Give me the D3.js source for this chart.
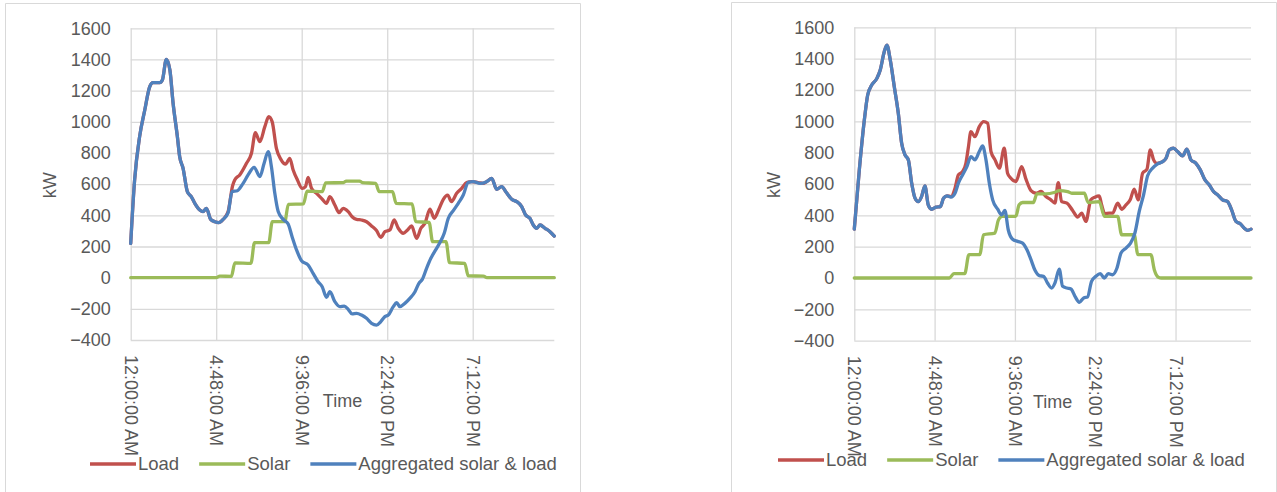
<!DOCTYPE html>
<html>
<head>
<meta charset="utf-8">
<script src="https://cdn.jsdelivr.net/npm/d3@7"></script>
<style>
  html, body { margin: 0; padding: 0; background: #ffffff; }
  svg { display: block; }
  text { font-family: "Liberation Sans", Arial, sans-serif; fill: #595959; }
</style>
</head>
<body>
<svg id="chart" width="1277" height="492"></svg>
<script>
// ---- axis definitions ----
const yTicks = [-400, -200, 0, 200, 400, 600, 800, 1000, 1200, 1400, 1600];
const xTickHours = [0, 4.8, 9.6, 14.4, 19.2];
const xTickLabels = ["12:00:00 AM", "4:48:00 AM", "9:36:00 AM", "2:24:00 PM", "7:12:00 PM"];
const seriesNames = ["Load", "Solar", "Aggregated solar & load"];
const seriesColors = ["#c0504d", "#9bbb59", "#4f81bd"];

// ---- first day: hour of day and kW ----
const aggHoursA = [0,0.22,0.5,0.79,1.07,1.25,1.63,1.78,2.0,2.2,2.38,2.62,2.75,2.94,3.18,3.4,3.6,3.88,4.06,4.25,4.49,4.72,4.94,5.19,5.47,5.69,5.99,6.31,6.59,6.93,7.25,7.49,7.72,7.9,8.09,8.28,8.56,8.84,9.06,9.31,9.59,9.96,10.24,10.52,10.75,10.99,11.18,11.46,11.74,11.99,12.21,12.43,12.68,12.96,13.24,13.52,13.8,14.04,14.27,14.46,14.74,14.93,15.11,15.39,15.67,15.96,16.18,16.37,16.61,16.85,17.12,17.36,17.6,17.83,18.11,18.39,18.67,18.95,19.23,19.61,19.98,20.27,20.54,20.82,21.1,21.39,21.67,21.95,22.17,22.41,22.6,22.79,22.98,23.26,23.54,23.78];
const aggA = [220,627,905,1076,1226,1251,1251,1268,1401,1333,1119,905,776,702,552,520,477,434,424,445,374,359,353,374,417,552,558,605,659,708,648,734,809,712,541,424,374,344,263,178,109,81,28,-26,-58,-126,-90,-154,-186,-182,-203,-233,-229,-240,-261,-293,-304,-282,-250,-240,-186,-160,-186,-165,-133,-90,-36,-11,60,124,178,225,285,381,430,477,530,612,616,605,616,637,567,584,545,503,488,456,402,381,338,317,338,317,295,267];

const loadHoursA = [0,0.22,0.5,0.79,1.07,1.25,1.63,1.78,2.0,2.2,2.38,2.62,2.75,2.94,3.18,3.4,3.6,3.88,4.06,4.25,4.49,4.72,4.94,5.19,5.47,5.72,5.84,6.12,6.5,6.78,7.0,7.25,7.53,7.75,7.94,8.18,8.43,8.69,8.93,9.12,9.36,9.63,9.81,9.96,10.15,10.43,10.71,10.99,11.18,11.46,11.69,11.93,12.21,12.43,12.68,12.96,13.24,13.52,13.8,14.04,14.27,14.55,14.79,15.02,15.3,15.54,15.77,16.05,16.29,16.52,16.8,17.04,17.3,17.55,17.79,18.01,18.3,18.58,18.86,19.14,19.51,19.79,19.98,20.27,20.54,20.82,21.1,21.39,21.67,21.95,22.17,22.41,22.6,22.79,22.98,23.26,23.54,23.78];
const loadA = [220,627,905,1076,1226,1251,1251,1268,1401,1333,1119,905,776,702,552,520,477,434,424,445,374,359,353,374,424,590,627,659,734,798,930,873,969,1033,1001,830,759,729,766,691,627,573,584,644,573,541,509,477,520,466,417,445,424,391,374,370,359,332,302,259,295,306,370,317,285,306,332,252,317,349,439,381,439,503,530,488,541,573,610,616,610,605,616,637,567,584,545,503,488,456,402,381,338,317,338,317,295,267];

const solarHoursA = [0,4.8,5.0,5.65,5.85,6.75,6.95,7.75,7.95,8.65,8.85,9.7,9.9,10.75,10.95,11.95,12.1,12.85,13.0,13.75,13.95,14.7,14.9,15.8,16.0,16.75,16.95,17.7,17.9,18.75,18.95,19.8,20.0,23.78];
const solarA = [0,0,10,8,95,92,225,225,360,360,470,473,555,552,608,610,620,620,610,605,552,552,477,473,359,355,231,231,96,92,11,10,0,0];

// ---- second day: hour of day and kW ----
const aggHoursB = [0,0.3,0.6,0.8,1.04,1.35,1.55,1.79,1.95,2.15,2.39,2.63,2.83,3.03,3.23,3.43,3.63,3.82,4.02,4.22,4.42,4.62,4.88,5.14,5.34,5.54,5.78,6.02,6.22,6.47,6.73,6.97,7.21,7.47,7.67,7.87,8.07,8.27,8.57,8.8,9.0,9.2,9.46,9.76,10.06,10.32,10.56,10.8,11.06,11.31,11.55,11.79,11.99,12.25,12.45,12.71,12.95,13.19,13.45,13.71,13.94,14.18,14.44,14.7,14.94,15.18,15.44,15.7,15.94,16.24,16.49,16.77,17.03,17.29,17.53,17.83,18.13,18.43,18.63,18.82,19.08,19.32,19.62,19.88,20.12,20.42,20.68,20.96,21.22,21.47,21.71,22.01,22.31,22.55,22.81,23.07,23.31,23.51,23.71];
const aggB = [312,690,1008,1168,1231,1274,1327,1444,1486,1391,1221,1051,860,786,754,605,510,488,520,588,467,439,452,456,510,524,516,541,605,658,711,775,754,807,843,754,605,499,439,403,431,308,248,234,223,180,117,49,15,11,-32,-64,-32,57,-53,-64,-70,-117,-155,-127,-121,-21,11,28,0,28,21,64,159,191,219,287,425,531,652,701,728,743,764,817,828,807,779,822,754,732,690,626,594,552,531,499,488,435,361,346,318,304,312];

const loadHoursB = [0,0.3,0.6,0.8,1.04,1.35,1.55,1.79,1.95,2.15,2.39,2.63,2.83,3.03,3.23,3.43,3.63,3.82,4.02,4.22,4.42,4.62,4.88,5.14,5.34,5.54,5.78,6.02,6.22,6.47,6.67,6.81,6.97,7.21,7.47,7.73,7.97,8.17,8.41,8.67,8.96,9.16,9.36,9.66,10.0,10.26,10.56,10.86,11.16,11.45,11.75,11.99,12.19,12.39,12.71,13.05,13.35,13.59,13.84,14.14,14.38,14.64,14.78,14.98,15.24,15.44,15.74,15.98,16.24,16.49,16.73,16.97,17.23,17.49,17.69,17.89,18.09,18.43,18.63,18.82,19.08,19.32,19.62,19.88,20.12,20.42,20.68,20.96,21.22,21.47,21.71,22.01,22.31,22.55,22.81,23.07,23.31,23.51,23.71];
const loadB = [312,690,1008,1168,1231,1274,1327,1444,1486,1391,1221,1051,860,786,754,605,510,488,520,588,467,439,452,456,510,524,520,573,658,679,732,828,934,902,966,998,987,807,754,701,828,669,637,616,711,631,558,541,552,520,499,478,609,488,478,431,389,414,361,499,516,524,467,410,414,414,478,439,467,499,567,499,669,694,817,754,732,743,764,817,828,807,779,822,754,732,690,626,594,552,531,499,488,435,361,346,318,304,312];

const solarHoursB = [0,5.68,5.95,6.6,6.85,7.5,7.72,8.4,8.62,8.85,9.65,9.85,10.06,10.7,10.92,11.45,11.95,12.25,12.75,13.0,13.75,13.98,14.64,14.95,15.74,15.98,16.73,16.95,17.73,17.93,18.2,18.35,23.71];
const solarB = [0,0,28,28,149,149,276,287,372,393,393,467,482,482,537,537,546,558,552,541,541,482,488,393,393,276,276,149,149,53,3,0,0];

// ---- layout of the two panels ----
const panels = [
  {
    frame: { x0: 5.5, y0: 3.5, x1: 580.5 },
    plot: { left: 130.7, right: 554.3, top: 28.3, bottom: 340 },
    legendX: 90, legendY: 464,
    series: [
      { hours: loadHoursA, values: loadA },
      { hours: solarHoursA, values: solarA },
      { hours: aggHoursA, values: aggA }
    ]
  },
  {
    frame: { x0: 731.5, y0: 2.5, x1: 1276.5 },
    plot: { left: 854.3, right: 1251, top: 27.3, bottom: 340.7 },
    legendX: 778, legendY: 460,
    series: [
      { hours: loadHoursB, values: loadB },
      { hours: solarHoursB, values: solarB },
      { hours: aggHoursB, values: aggB }
    ]
  }
];

const svg = d3.select("#chart");
const gridColor = "#d9d9d9";

function drawPanel(p) {
  const g = svg.append("g");

  // outer chart-area border
  g.append("path")
    .attr("d", `M${p.frame.x0},500 V${p.frame.y0} H${p.frame.x1} V500`)
    .attr("fill", "none")
    .attr("stroke", gridColor)
    .attr("stroke-width", 1);

  const lastHour = d3.max(p.series, s => d3.max(s.hours));
  const x = d3.scaleLinear().domain([0, lastHour]).range([p.plot.left, p.plot.right]);
  const y = d3.scaleLinear().domain([-400, 1600]).range([p.plot.bottom, p.plot.top]);

  // horizontal gridlines + value labels
  const yAxis = d3.axisLeft(y).tickValues(yTicks)
    .tickSize(-(p.plot.right - p.plot.left))
    .tickPadding(20)
    .tickFormat(d3.format("d"));
  const ya = g.append("g").attr("transform", `translate(${p.plot.left},0)`).call(yAxis);
  ya.select(".domain").remove();
  ya.selectAll(".tick line").attr("stroke", gridColor).attr("stroke-width", 1.3);
  ya.selectAll(".tick text")
    .attr("font-size", 18)
    .attr("font-family", "Liberation Sans, Arial, sans-serif")
    .attr("fill", "#595959");

  // vertical gridlines + rotated time labels
  const xAxis = d3.axisBottom(x).tickValues(xTickHours)
    .tickSize(-(p.plot.bottom - p.plot.top))
    .tickFormat((d, i) => xTickLabels[i]);
  const xa = g.append("g").attr("transform", `translate(0,${p.plot.bottom})`).call(xAxis);
  xa.select(".domain").remove();
  xa.selectAll(".tick line").attr("stroke", gridColor).attr("stroke-width", 1.3);
  xa.selectAll(".tick text")
    .attr("font-size", 18)
    .attr("font-family", "Liberation Sans, Arial, sans-serif")
    .attr("fill", "#595959")
    .attr("text-anchor", "start")
    .attr("transform", "rotate(90)")
    .attr("x", 15)
    .attr("y", 0)
    .attr("dy", "0.35em");

  // axis titles
  g.append("text")
    .attr("transform", `translate(${p.plot.left - 81},${(p.plot.top + p.plot.bottom) / 2 + 1}) rotate(-90)`)
    .attr("text-anchor", "middle")
    .attr("dy", "0.35em")
    .attr("font-size", 18)
    .text("kW");
  g.append("text")
    .attr("x", (p.plot.left + p.plot.right) / 2)
    .attr("y", p.plot.bottom + 61)
    .attr("text-anchor", "middle")
    .attr("dy", "0.35em")
    .attr("font-size", 18)
    .text("Time");

  // series lines (load, solar, aggregated drawn last on top)
  const line = d3.line()
    .x(d => x(d[0]))
    .y(d => y(d[1]))
    .curve(d3.curveMonotoneX);
  p.series.forEach((s, i) => {
    const pts = s.hours.map((h, k) => [h, s.values[k]]);
    g.append("path")
      .datum(pts)
      .attr("d", line)
      .attr("fill", "none")
      .attr("stroke", seriesColors[i])
      .attr("stroke-width", 3.3)
      .attr("stroke-linejoin", "round")
      .attr("stroke-linecap", "round");
  });

  // legend
  let lx = p.legendX;
  seriesNames.forEach((name, i) => {
    g.append("line")
      .attr("x1", lx).attr("x2", lx + 46)
      .attr("y1", p.legendY).attr("y2", p.legendY)
      .attr("stroke", seriesColors[i])
      .attr("stroke-width", 3.3);
    const t = g.append("text")
      .attr("x", lx + 48)
      .attr("y", p.legendY)
      .attr("dy", "0.35em")
      .attr("font-size", 18.5)
      .text(name);
    lx += 48 + t.node().getComputedTextLength() + 20;
  });
}

panels.forEach(drawPanel);
</script>
</body>
</html>
